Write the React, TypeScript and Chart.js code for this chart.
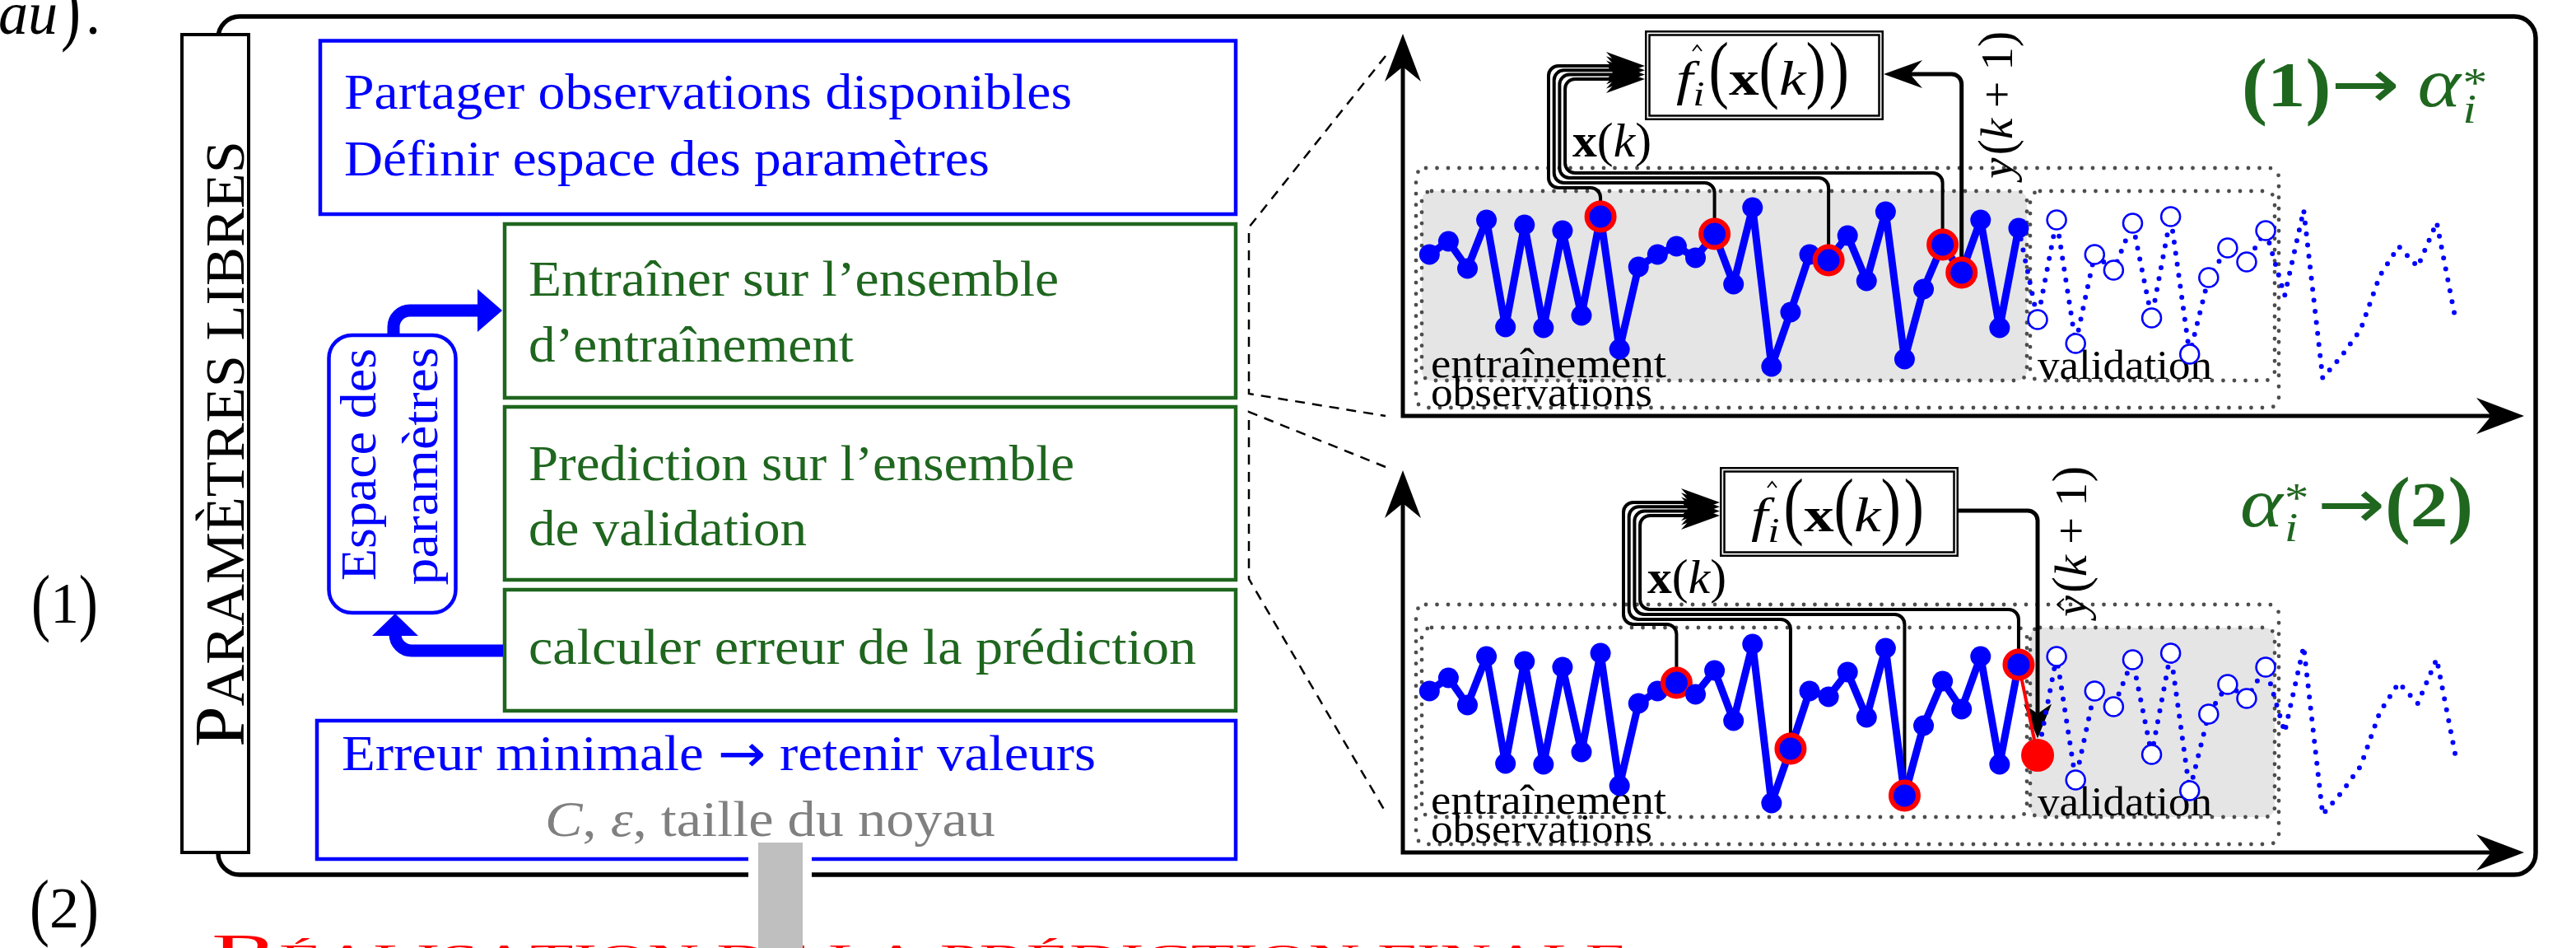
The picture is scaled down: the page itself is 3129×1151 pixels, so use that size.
import React, { useEffect, useRef } from "react";
import { Chart, registerables } from "chart.js";

Chart.register(...registerables);

// ---------------- data ----------------
const trainValues = [19.6, 21.2, 17.9, 23.8, 10.8, 23.2, 10.7, 22.5, 12.2, 24.2, 8.1, 18.1, 19.6, 20.6, 19.2, 22.1, 16.0, 25.3, 6.0, 12.6, 19.6, 18.9, 21.9, 16.4, 24.8, 6.9, 15.4, 20.8, 17.4, 23.8, 10.7, 22.8];
const validationValues = [11.7, 23.8, 8.8, 19.6, 17.7, 23.4, 11.9, 24.2, 7.5, 16.8, 20.4, 18.7, 22.5];
const futureValues = [14.6, 25.0, 4.6, 7.3, 10.5, 17.0, 20.6, 18.1, 23.5, 11.6];
const predictedValue = 11.8;
const fitInputSteps = [10, 16, 22, 28];
const fitTargetStep = 29;
const predInputSteps = [14, 20, 26, 32];
const predStep = 33;
const stepAxis = { min: -0.4, max: 58.6 };
const valueAxis = { min: 0, max: 46.4 };

const topBoxLines = ["Partager observations disponibles", "Définir espace des paramètres"];
const trainBoxLines = ["Entraîner sur l’ensemble", "d’entraînement"];
const validBoxLines = ["Prediction sur l’ensemble", "de validation"];
const errorBoxLine = "calculer erreur de la prédiction";
const bannerText = "Paramètres libres";
const spaceLines = ["Espace des", "paramètres"];
const finalTitle = "Réalisation de la prédiction finale";

const allValues = [...trainValues, ...validationValues, ...futureValues];
const valueAt = (t: number) => allValues[t - 1];

// ---------------- drawing helpers ----------------
const PAGE_W = 3129;
const PAGE_H = 1151;
const SERIF = '"Liberation Serif", "DejaVu Serif", serif';
const F = (px: number, style = "") => `${style} ${px}px ${SERIF}`.trim();
const ARROWF = (px: number) => `${px}px "DejaVu Sans", sans-serif`;
const BLUE = "#0000ff";
const GREEN = "#1f661f";
const RED = "#ff0000";
const BLACK = "#000000";
const GRAYTXT = "#808080";
const SHADE = "#e5e5e5";
const DOTS = "#4d4d4d";
const BAR = "#bfbfbf";

type Piece = { t: string; f: string; dy?: number; sy?: number; pre?: number; adv?: boolean; c?: string };

function drawPieces(ctx: CanvasRenderingContext2D, pieces: Piece[], x: number, y: number, fitW: number | null, color: string) {
  const ws = pieces.map((p) => {
    ctx.font = p.f;
    return ctx.measureText(p.t).width;
  });
  let total = 0;
  pieces.forEach((p, i) => {
    total += (p.pre || 0) + (p.adv === false ? 0 : ws[i]);
  });
  const sx = fitW ? fitW / total : 1;
  ctx.save();
  ctx.translate(x, y);
  ctx.scale(sx, 1);
  ctx.textBaseline = "alphabetic";
  ctx.textAlign = "left";
  let cx = 0;
  pieces.forEach((p, i) => {
    cx += p.pre || 0;
    ctx.save();
    ctx.font = p.f;
    ctx.fillStyle = p.c || color;
    ctx.translate(cx, p.dy || 0);
    if (p.sy) ctx.scale(1, p.sy);
    ctx.fillText(p.t, 0, 0);
    ctx.restore();
    if (p.adv !== false) cx += ws[i];
  });
  ctx.restore();
}

const fitText = (ctx: CanvasRenderingContext2D, text: string, x: number, y: number, w: number, font: string, color: string) =>
  drawPieces(ctx, [{ t: text, f: font }], x, y, w, color);

function smallCaps(text: string, big: number, small: number): Piece[] {
  return Array.from(text).map((ch) => {
    const up = ch.toUpperCase();
    const isUpper = ch !== ch.toLowerCase() && ch === up;
    return { t: up, f: F(isUpper ? big : small) };
  });
}

function rrect(ctx: CanvasRenderingContext2D, x: number, y: number, w: number, h: number, r: number) {
  ctx.beginPath();
  ctx.moveTo(x + r, y);
  ctx.arcTo(x + w, y, x + w, y + h, r);
  ctx.arcTo(x + w, y + h, x, y + h, r);
  ctx.arcTo(x, y + h, x, y, r);
  ctx.arcTo(x, y, x + w, y, r);
  ctx.closePath();
}

function stealth(ctx: CanvasRenderingContext2D, tx: number, ty: number, dx: number, dy: number, len: number, half: number, notch: number) {
  const px = -dy, py = dx;
  const bx = tx - dx * len, by = ty - dy * len;
  ctx.save();
  ctx.fillStyle = BLACK;
  ctx.beginPath();
  ctx.moveTo(tx, ty);
  ctx.lineTo(bx + px * half, by + py * half);
  ctx.lineTo(tx - dx * notch, ty - dy * notch);
  ctx.lineTo(bx - px * half, by - py * half);
  ctx.closePath();
  ctx.fill();
  ctx.restore();
}

function rotated(ctx: CanvasRenderingContext2D, x: number, y: number, fn: () => void) {
  ctx.save();
  ctx.translate(x, y);
  ctx.rotate(-Math.PI / 2);
  fn();
  ctx.restore();
}

// ---------------- left part of the figure ----------------
function drawLeft(ctx: CanvasRenderingContext2D) {
  ctx.save();
  ctx.setLineDash([]);
  drawPieces(ctx, [
    { t: "au", f: F(75, "italic") },
    { t: ")", f: F(75), sy: 1.3, dy: 2, pre: 4 },
    { t: ".", f: F(75), pre: 6 },
  ], -2, 41, 124, BLACK);
  const num = (d: string): Piece[] => [
    { t: "(", f: F(70), sy: 1.3, dy: 5 },
    { t: d, f: F(70) },
    { t: ")", f: F(70), sy: 1.3, dy: 5 },
  ];
  drawPieces(ctx, num("1"), 38, 756, 81, BLACK);
  drawPieces(ctx, num("2"), 36, 1126, 84, BLACK);

  // outer frame
  ctx.strokeStyle = BLACK;
  ctx.lineWidth = 5.5;
  rrect(ctx, 265, 20, 2815, 1042, 26);
  ctx.stroke();

  // banner
  ctx.fillStyle = "#fff";
  ctx.fillRect(219, 40, 85, 997);
  ctx.lineWidth = 4;
  ctx.strokeRect(221, 42, 81, 993);
  rotated(ctx, 296, 907, () => drawPieces(ctx, smallCaps(bannerText, 86, 68), 0, 0, 736, BLACK));

  // boxes
  ctx.lineWidth = 4.5;
  ctx.strokeStyle = BLUE;
  ctx.strokeRect(389, 49.5, 1501 - 389, 260 - 49.5);
  ctx.strokeRect(385, 875, 1501 - 385, 1043 - 875);
  ctx.strokeStyle = GREEN;
  ctx.strokeRect(613, 272, 1501 - 613, 483 - 272);
  ctx.strokeRect(613, 494, 1501 - 613, 704 - 494);
  ctx.strokeRect(613, 716, 1501 - 613, 863 - 716);

  fitText(ctx, topBoxLines[0], 418, 132, 884, F(61), BLUE);
  fitText(ctx, topBoxLines[1], 418, 212.5, 784, F(61), BLUE);
  fitText(ctx, trainBoxLines[0], 642, 359, 644, F(61), GREEN);
  fitText(ctx, trainBoxLines[1], 642, 439, 395, F(61), GREEN);
  fitText(ctx, validBoxLines[0], 642, 582.5, 663, F(61), GREEN);
  fitText(ctx, validBoxLines[1], 642, 662, 338, F(61), GREEN);
  fitText(ctx, errorBoxLine, 642, 806, 811, F(61), GREEN);
  drawPieces(ctx, [
    { t: "Erreur minimale ", f: F(61) },
    { t: "→", f: ARROWF(64), dy: 2 },
    { t: " retenir valeurs", f: F(61) },
  ], 415, 935, 916, BLUE);
  drawPieces(ctx, [
    { t: "C", f: F(61, "italic") },
    { t: ", ", f: F(61) },
    { t: "ε", f: F(61, "italic") },
    { t: ", taille du noyau", f: F(61) },
  ], 662, 1015, 547, GRAYTXT);

  // parameter space box
  ctx.strokeStyle = BLUE;
  ctx.lineWidth = 4.5;
  rrect(ctx, 399.5, 407, 154, 337, 28);
  ctx.stroke();
  rotated(ctx, 456, 705, () => fitText(ctx, spaceLines[0], 0, 0, 282, F(62), BLUE));
  rotated(ctx, 531, 710.5, () => fitText(ctx, spaceLines[1], 0, 0, 289, F(62), BLUE));

  // thick blue arrows
  ctx.lineWidth = 15;
  ctx.lineCap = "butt";
  ctx.beginPath();
  ctx.moveTo(478, 409);
  ctx.arcTo(478, 377, 510, 377, 20);
  ctx.lineTo(584, 377);
  ctx.stroke();
  ctx.fillStyle = BLUE;
  ctx.beginPath();
  ctx.moveTo(580, 351);
  ctx.lineTo(610, 377);
  ctx.lineTo(580, 403);
  ctx.closePath();
  ctx.fill();
  ctx.beginPath();
  ctx.moveTo(611, 790);
  ctx.arcTo(480, 790, 480, 760, 20);
  ctx.lineTo(480, 768);
  ctx.stroke();
  ctx.beginPath();
  ctx.moveTo(480, 745);
  ctx.lineTo(508, 772);
  ctx.lineTo(452, 772);
  ctx.closePath();
  ctx.fill();

  // dashed zoom connectors
  ctx.strokeStyle = BLACK;
  ctx.lineWidth = 2.5;
  ctx.setLineDash([12, 9]);
  ctx.beginPath();
  ctx.moveTo(1683, 68);
  ctx.lineTo(1517, 276);
  ctx.lineTo(1517, 478);
  ctx.lineTo(1683, 505);
  ctx.stroke();
  ctx.beginPath();
  ctx.moveTo(1683, 567);
  ctx.lineTo(1517, 500);
  ctx.lineTo(1517, 703);
  ctx.lineTo(1683, 986);
  ctx.stroke();
  ctx.setLineDash([]);

  // final title (cut by the page edge)
  drawPieces(ctx, smallCaps(finalTitle, 66, 46), 257, 1179, 1721, RED);

  // grey bar
  ctx.fillStyle = "#fff";
  ctx.fillRect(909, 1036, 77, 34);
  ctx.fillStyle = BAR;
  ctx.fillRect(921, 1023, 54, 140);
  ctx.restore();
}

// ---------------- plot decorations ----------------
function drawPlot(ctx: CanvasRenderingContext2D, chart: any, variant: "fit" | "pred") {
  const fit = variant === "fit";
  const oy = fit ? 0 : 530;
  const ox = fit ? 0 : 91;
  const xs = chart.scales.x, ys = chart.scales.y, area = chart.chartArea;
  const X = (t: number) => xs.getPixelForValue(t);
  const Y = (v: number) => ys.getPixelForValue(v);
  ctx.save();
  ctx.setLineDash([]);

  // shaded region
  ctx.fillStyle = SHADE;
  if (fit) rrect(ctx, 1727, 232 + oy, 735, 230, 12);
  else rrect(ctx, 2466, 232 + oy, 297, 230, 12);
  ctx.fill();

  // dotted frames
  ctx.save();
  ctx.strokeStyle = DOTS;
  ctx.lineWidth = 4.8;
  ctx.lineCap = "round";
  ctx.setLineDash([0, 13.5]);
  [[1720, 204, 2768, 495], [1727, 232, 2462, 462], [2466, 232, 2763, 462]].forEach(([x1, y1, x2, y2]) => {
    rrect(ctx, x1, y1 + oy, x2 - x1, y2 - y1, 12);
    ctx.stroke();
  });
  ctx.restore();

  fitText(ctx, "entraînement", 1738, 458 + oy, 286, F(50), BLACK);
  fitText(ctx, "observations", 1738, 493 + oy, 269, F(50), BLACK);
  fitText(ctx, "validation", 2475, 460 + oy, 212, F(50), BLACK);

  // axes with arrows
  ctx.strokeStyle = BLACK;
  ctx.lineWidth = 5;
  ctx.lineJoin = "miter";
  ctx.beginPath();
  ctx.moveTo(area.left, area.top + 38);
  ctx.lineTo(area.left, area.bottom);
  ctx.lineTo(area.right - 38, area.bottom);
  ctx.stroke();
  stealth(ctx, area.left, area.top, 0, -1, 58, 22, 40);
  stealth(ctx, area.right, area.bottom, 1, 0, 58, 22, 40);

  // model box
  const bl = 1998 + ox, bt = 37 + oy, bw = 290, bh = 109;
  ctx.fillStyle = "#fff";
  ctx.fillRect(bl, bt, bw, bh);
  ctx.lineWidth = 2.5;
  ctx.strokeRect(bl + 1.25, bt + 1.25, bw - 2.5, bh - 2.5);
  ctx.strokeRect(bl + 5.5, bt + 5.5, bw - 11, bh - 11);
  drawPieces(ctx, [
    { t: "f", f: F(60, "italic") },
    { t: "i", f: F(42, "italic"), dy: 13 },
    { t: "(", f: F(60), sy: 1.52, dy: -1, pre: 4 },
    { t: "x", f: F(60, "bold") },
    { t: "(", f: F(60), sy: 1.52, dy: -1 },
    { t: "k", f: F(60, "italic") },
    { t: ")", f: F(60), sy: 1.52, dy: -1 },
    { t: ")", f: F(60), sy: 1.52, dy: -1, pre: 3 },
  ], bl + 38, bt + 78, 210, BLACK);
  ctx.lineWidth = 1.8;
  ctx.beginPath();
  ctx.moveTo(bl + 58, bt + 25);
  ctx.lineTo(bl + 63.5, bt + 18);
  ctx.lineTo(bl + 69, bt + 25);
  ctx.stroke();

  // x(k) connectors
  const inputs = fit ? fitInputSteps : predInputSteps;
  ctx.lineWidth = 4;
  ctx.lineJoin = "round";
  inputs.forEach((t, j) => {
    const px = X(t), py = Y(valueAt(t));
    const bx = 1881 + ox + 6.7 * j;
    const hy = 228 + oy - 6 * j;
    const ty = 80 + oy + 5.3 * j;
    const ex = bl - 30;
    ctx.beginPath();
    ctx.moveTo(px, py);
    ctx.arcTo(px, hy, bx, hy, 12);
    ctx.arcTo(bx, hy, bx, ty, 12);
    ctx.arcTo(bx, ty, ex, ty, 12);
    ctx.lineTo(ex, ty);
    ctx.stroke();
  });
  inputs.forEach((_, j) => stealth(ctx, bl, 80 + oy + 5.3 * j, 1, 0, 47, 17, 32));
  drawPieces(ctx, [
    { t: "x", f: F(56, "bold") },
    { t: "(", f: F(56), sy: 1.05 },
    { t: "k", f: F(56, "italic") },
    { t: ")", f: F(56), sy: 1.05 },
  ], 1910 + ox, 190 + oy, 96, BLACK);

  // target / prediction arrow
  ctx.lineWidth = 5;
  const br = bl + bw;
  if (fit) {
    const px = X(fitTargetStep), py = Y(valueAt(fitTargetStep));
    ctx.beginPath();
    ctx.moveTo(px, py);
    ctx.arcTo(px, 90, br, 90, 12);
    ctx.lineTo(br + 30, 90);
    ctx.stroke();
    stealth(ctx, br, 90, -1, 0, 47, 17, 32);
  } else {
    const px = X(predStep);
    const tip = Y(predictedValue) - 20.5;
    ctx.beginPath();
    ctx.moveTo(br, 620);
    ctx.arcTo(px, 620, px, tip, 12);
    ctx.lineTo(px, tip - 30);
    ctx.stroke();
    stealth(ctx, px, tip, 0, 1, 42, 17, 30);
  }

  // rotated y(k+1) label
  const lx = fit ? 2444 : 2534;
  const ly = fit ? 217 : 749;
  const llen = fit ? 179 : 183;
  rotated(ctx, lx, ly, () => {
    drawPieces(ctx, [
      { t: "y", f: F(54, "italic") },
      { t: "(", f: F(54), sy: 1.14, dy: 1, pre: 3 },
      { t: "k", f: F(54, "italic") },
      { t: "+", f: F(54), pre: 12 },
      { t: "1", f: F(54), pre: 12 },
      { t: ")", f: F(54), sy: 1.14, dy: 1 },
    ], 0, 0, llen, BLACK);
    if (!fit) {
      ctx.strokeStyle = BLACK;
      ctx.lineWidth = 1.8;
      ctx.beginPath();
      ctx.moveTo(8, -27);
      ctx.lineTo(15, -35);
      ctx.lineTo(22, -27);
      ctx.stroke();
    }
  });

  // green annotation
  if (fit) {
    drawPieces(ctx, [
      { t: "(", f: F(78, "bold"), sy: 1.18, dy: 4.5 },
      { t: "1", f: F(78, "bold") },
      { t: ")", f: F(78, "bold"), sy: 1.18, dy: 4.5 },
      { t: "→", f: ARROWF(84), dy: 2 },
      { t: "α", f: F(84, "italic"), pre: 18 },
      { t: "*", f: F(50), dy: -12, adv: false, pre: 2 },
      { t: "i", f: F(50, "italic"), dy: 20 },
    ], 2723, 129, 285, GREEN);
  } else {
    drawPieces(ctx, [
      { t: "α", f: F(84, "italic") },
      { t: "*", f: F(50), dy: -18, adv: false, pre: 2 },
      { t: "i", f: F(50, "italic"), dy: 18 },
      { t: "→", f: ARROWF(84), dy: 2, pre: 20 },
      { t: "(", f: F(78, "bold"), sy: 1.18, dy: 3 },
      { t: "2", f: F(78, "bold") },
      { t: ")", f: F(78, "bold"), sy: 1.18, dy: 3 },
    ], 2721, 639, 283, GREEN);
  }
  ctx.restore();
}

// ---------------- chart construction ----------------
function buildDatasets(variant: "fit" | "pred") {
  const fit = variant === "fit";
  const rings = fit ? [...fitInputSteps, fitTargetStep] : predInputSteps;
  const nT = trainValues.length, nV = validationValues.length;
  const train = trainValues.map((y, i) => ({ x: i + 1, y }));
  const valid = validationValues.map((y, i) => ({ x: nT + 1 + i, y }));
  const fut = futureValues.map((y, i) => ({ x: nT + nV + 1 + i, y }));
  const isRing = (c: any) => !!c.raw && rings.includes(c.raw.x);
  const firstHollow = fit ? nT + 1 : nT + 2;
  const hollow = (c: any) => !!c.raw && c.raw.x >= firstHollow && c.raw.x <= nT + nV;
  const ds: any[] = [
    {
      label: "entraînement",
      data: train,
      order: 0,
      borderColor: BLUE,
      borderWidth: 9,
      borderJoinStyle: "round",
      pointRadius: (c: any) => (isRing(c) ? 16.5 : 12.5),
      pointBackgroundColor: BLUE,
      pointBorderColor: (c: any) => (isRing(c) ? RED : BLUE),
      pointBorderWidth: (c: any) => (isRing(c) ? 6 : 0),
      clip: false,
    },
    {
      label: "validation",
      data: fit ? [train[nT - 1], ...valid, ...fut] : [...valid, ...fut],
      order: 2,
      borderColor: BLUE,
      borderWidth: 6,
      borderDash: [0, 13.5],
      borderCapStyle: "round",
      borderJoinStyle: "round",
      pointRadius: (c: any) => (hollow(c) ? 11.5 : 0),
      pointBackgroundColor: "#ffffff",
      pointBorderColor: BLUE,
      pointBorderWidth: 2.5,
      clip: false,
    },
  ];
  if (!fit) {
    ds.push({
      label: "lien",
      data: [train[nT - 1], { x: predStep, y: predictedValue }],
      order: 1,
      borderColor: RED,
      borderWidth: 4,
      pointRadius: 0,
      clip: false,
    });
    ds.push({
      label: "prédiction",
      data: [{ x: predStep, y: predictedValue }],
      order: -1,
      showLine: false,
      pointRadius: 20,
      pointBackgroundColor: RED,
      pointBorderWidth: 0,
      clip: false,
    });
  }
  return ds;
}

function makeChart(canvas: HTMLCanvasElement, variant: "fit" | "pred") {
  const oy = variant === "fit" ? 0 : 530;
  return new Chart(canvas, {
    type: "line",
    data: { datasets: buildDatasets(variant) },
    options: {
      animation: false,
      responsive: false,
      devicePixelRatio: 1,
      events: [],
      layout: { padding: { left: 1704, right: PAGE_W - 3066, top: 41 + oy, bottom: PAGE_H - (505 + oy) } },
      scales: {
        x: { type: "linear", min: stepAxis.min, max: stepAxis.max, display: false },
        y: { type: "linear", min: valueAxis.min, max: valueAxis.max, display: false },
      },
      plugins: { legend: { display: false }, tooltip: { enabled: false } },
    },
    plugins: [
      {
        id: "decor-" + variant,
        beforeDatasetsDraw(chart: any) {
          const ctx = chart.ctx as CanvasRenderingContext2D;
          if (variant === "fit") drawLeft(ctx);
          drawPlot(ctx, chart, variant);
        },
      },
    ],
  } as any);
}

export default function App() {
  const topRef = useRef<HTMLCanvasElement>(null);
  const botRef = useRef<HTMLCanvasElement>(null);
  useEffect(() => {
    const c1 = makeChart(topRef.current!, "fit");
    const c2 = makeChart(botRef.current!, "pred");
    return () => {
      c1.destroy();
      c2.destroy();
    };
  }, []);
  return (
    <div style={{ position: "fixed", left: 0, top: 0, width: PAGE_W, height: PAGE_H, overflow: "hidden", background: "#fff" }}>
      <canvas ref={topRef} width={PAGE_W} height={PAGE_H} style={{ position: "absolute", left: 0, top: 0 }} />
      <canvas ref={botRef} width={PAGE_W} height={PAGE_H} style={{ position: "absolute", left: 0, top: 0 }} />
    </div>
  );
}
